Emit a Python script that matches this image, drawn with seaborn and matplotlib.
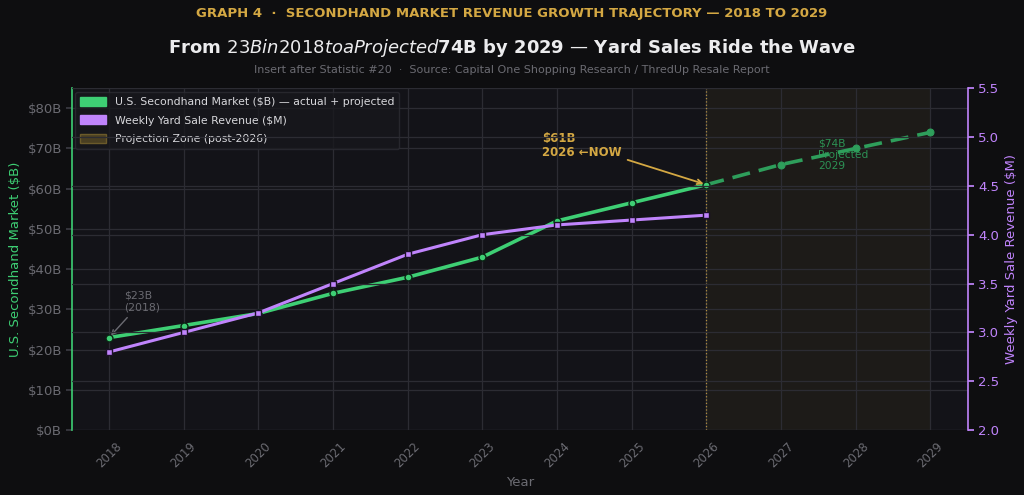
import pandas as pd
import matplotlib.pyplot as plt
import matplotlib.patches as mpatches
import seaborn as sns

# data
years = [2018, 2019, 2020, 2021, 2022, 2023, 2024, 2025, 2026, 2027, 2028, 2029]
market_b = [23, 26, 29, 34, 38, 43, 52, 56.5, 61, 66, 70, 74]
yard_years = [2018, 2019, 2020, 2021, 2022, 2023, 2024, 2025, 2026]
yard_m = [2.8, 3.0, 3.2, 3.5, 3.8, 4.0, 4.1, 4.15, 4.2]
now_year = 2026

BG = '#0e0e10'
AX_BG = '#131318'
GREEN = '#3ecf74'
GREEN_D = '#2e9e5b'
PURPLE = '#c084fc'
GOLD = '#d4a843'
GRAY = '#6b6b72'

sns.set_theme(style='dark')
plt.rcParams['font.family'] = ['DejaVu Sans']

df = pd.DataFrame({'year': years, 'market': market_b})
actual = df[df['year'] <= now_year]
proj = df[df['year'] >= now_year]
yard = pd.DataFrame({'year': yard_years, 'rev': yard_m})

fig, ax = plt.subplots(figsize=(10.24, 4.95), dpi=100)
fig.patch.set_facecolor(BG)
ax.set_facecolor(AX_BG)
fig.subplots_adjust(left=0.07, right=0.945, top=0.822, bottom=0.131)

# projection zone
ax.axvspan(now_year, years[-1], color='#2a2618', alpha=0.45, zorder=0, lw=0)
ax.axvline(now_year, color=GOLD, ls=':', lw=0.9, alpha=0.8, zorder=1)

sns.lineplot(data=actual, x='year', y='market', ax=ax, color=GREEN, lw=2.6,
             marker='o', markersize=5, markeredgecolor='#0b2415', markeredgewidth=1, zorder=4)
sns.lineplot(data=proj, x='year', y='market', ax=ax, color=GREEN_D, lw=2.6, ls=(0, (5, 2.5)),
             marker='o', markersize=5, markeredgecolor=GREEN_D, zorder=3)

ax.set_xlim(2017.5, 2029.5)
ax.set_ylim(0, 85)
ax.set_xticks(years)
ax.set_xticklabels([str(y) for y in years], rotation=45, color=GRAY, fontsize=8.5)
ax.set_yticks(range(0, 81, 10))
ax.set_yticklabels([f'${v}B' for v in range(0, 81, 10)], color=GRAY, fontsize=9.5)
ax.set_xlabel('Year', color=GRAY, fontsize=9.5)
ax.set_ylabel('U.S. Secondhand Market ($B)', color=GREEN, fontsize=9.5)
ax.grid(True, color='#2c2c33', lw=0.9)
ax.tick_params(axis='both', length=4, color='#3a3a42', pad=3)
for s in ['top', 'right', 'bottom']:
    ax.spines[s].set_visible(False)
ax.spines['left'].set_color(GREEN)
ax.spines['left'].set_linewidth(1.2)

ax2 = ax.twinx()
sns.lineplot(data=yard, x='year', y='rev', ax=ax2, color=PURPLE, lw=2.2,
             marker='s', markersize=4.5, markeredgecolor='#1c1028', markeredgewidth=1, zorder=4)
ax2.set_ylim(2.0, 5.5)
ax2.set_yticks([2.0, 2.5, 3.0, 3.5, 4.0, 4.5, 5.0, 5.5])
ax2.tick_params(axis='y', colors=PURPLE, labelsize=9.5, length=4)
ax2.set_ylabel('Weekly Yard Sale Revenue ($M)', color=PURPLE, fontsize=9.5)
ax2.grid(True, axis='y', color='#2c2c33', lw=0.9)
ax2.grid(False, axis='x')
for s in ['top', 'left', 'bottom']:
    ax2.spines[s].set_visible(False)
ax2.spines['right'].set_color(PURPLE)
ax2.spines['right'].set_linewidth(1.2)
ax2.set_xlabel('')

# annotations
ax.annotate('$61B\n2026 ←NOW', xy=(now_year, market_b[years.index(now_year)]),
            xytext=(2023.8, 68.2), color=GOLD, fontsize=8.5, fontweight='bold',
            linespacing=1.05,
            arrowprops=dict(arrowstyle='->', color=GOLD, lw=1.3), zorder=6)
ax.text(2027.5, 64.8, '$74B\nProjected\n2029', color=GREEN_D, fontsize=7.7, alpha=0.9,
        linespacing=1.15)
ax.annotate('$23B\n(2018)', xy=(2018, market_b[0]), xytext=(2018.2, 29.8),
            color=GRAY, fontsize=7.8,
            arrowprops=dict(arrowstyle='->', color=GRAY, lw=1))

handles = [mpatches.Patch(color=GREEN, label='U.S. Secondhand Market ($B) — actual + projected'),
           mpatches.Patch(color=PURPLE, label='Weekly Yard Sale Revenue ($M)'),
           mpatches.Patch(facecolor='#4a3f22', edgecolor='#6b5a2a', label='Projection Zone (post-2026)')]
leg = ax.legend(handles=handles, loc='upper left', fontsize=7.8, facecolor='#18181d',
                edgecolor='#2c2c33', framealpha=0.8, borderpad=0.45, handlelength=2.4,
                handleheight=0.9, labelspacing=0.78, borderaxespad=0.35)
for t in leg.get_texts():
    t.set_color('#d8d8dc')
leg.set_zorder(10)

fig.text(0.5, 0.972, 'GRAPH 4  ·  SECONDHAND MARKET REVENUE GROWTH TRAJECTORY — 2018 TO 2029',
         ha='center', va='center', color=GOLD, fontsize=9.5, fontweight='bold')
fig.text(0.5, 0.903, 'From $23B in 2018 to a Projected $74B by 2029 — Yard Sales Ride the Wave',
         ha='center', va='center', color='#ececee', fontsize=13, fontweight='bold')
fig.text(0.5, 0.858, 'Insert after Statistic #20  ·  Source: Capital One Shopping Research / ThredUp Resale Report',
         ha='center', va='center', color=GRAY, fontsize=8)

fig.savefig('out.png', dpi=100, facecolor=BG)
